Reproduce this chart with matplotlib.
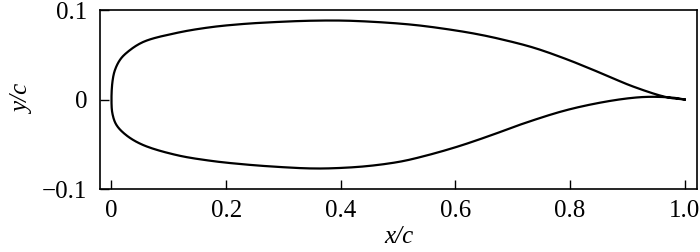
import matplotlib
matplotlib.use("Agg")
import matplotlib.pyplot as plt
import numpy as np

# Upper surface (x/c, y/c), leading edge to trailing edge
upper_x = [0.0, 0.0017, 0.0058, 0.0145, 0.026, 0.055, 0.113, 0.172, 0.230, 0.288,
           0.346, 0.400, 0.445, 0.503, 0.544, 0.602, 0.640, 0.678, 0.736, 0.794,
           0.852, 0.910, 0.969, 1.0]
upper_y = [0.0, 0.020, 0.0325, 0.044, 0.052, 0.0642, 0.0743, 0.0807, 0.0844, 0.0866,
           0.0880, 0.0882, 0.0872, 0.0848, 0.0822, 0.0770, 0.0728, 0.0676, 0.0580,
           0.0450, 0.0300, 0.0145, 0.0025, 0.0]

# Lower surface (x/c, y/c), leading edge to trailing edge
lower_x = [0.0, 0.0017, 0.0087, 0.026, 0.055, 0.113, 0.172, 0.230, 0.288, 0.346,
           0.387, 0.445, 0.503, 0.544, 0.602, 0.660, 0.718, 0.790, 0.852, 0.904,
           0.939, 0.980, 1.0]
lower_y = [0.0, -0.016, -0.0285, -0.040, -0.0508, -0.062, -0.0684, -0.0724, -0.0752,
           -0.0770, -0.0768, -0.0745, -0.0695, -0.0635, -0.0530, -0.0405, -0.0270,
           -0.0125, -0.0036, 0.0015, 0.0030, 0.0020, 0.0]

xticks = [0, 0.2, 0.4, 0.6, 0.8, 1.0]
xticklabels = ["0", "0.2", "0.4", "0.6", "0.8", "1.0"]
yticks = [-0.1, 0, 0.1]
yticklabels = ["\u22120.1", "0", "0.1"]

plt.rcParams['font.family'] = ['Liberation Serif', 'DejaVu Serif']

fig = plt.figure(figsize=(7.0, 2.52), dpi=100)
ax = fig.add_axes([0.1429, 0.25, 0.8528, 0.7103])


def centripetal(xs, ys, n=16, sx=573.0, sy=895.0):
    """Centripetal Catmull-Rom through the given points (computed in pixel-like space)."""
    pts = np.column_stack([np.asarray(xs) * sx, np.asarray(ys) * sy])
    P = np.vstack([2 * pts[0] - pts[1], pts, 2 * pts[-1] - pts[-2]])
    out = []
    for i in range(1, len(P) - 2):
        p0, p1, p2, p3 = P[i - 1], P[i], P[i + 1], P[i + 2]
        t0 = 0.0
        t1 = t0 + np.linalg.norm(p1 - p0) ** 0.5 + 1e-9
        t2 = t1 + np.linalg.norm(p2 - p1) ** 0.5 + 1e-9
        t3 = t2 + np.linalg.norm(p3 - p2) ** 0.5 + 1e-9
        for t in np.linspace(t1, t2, n, endpoint=False):
            a1 = (t1 - t) / (t1 - t0) * p0 + (t - t0) / (t1 - t0) * p1
            a2 = (t2 - t) / (t2 - t1) * p1 + (t - t1) / (t2 - t1) * p2
            a3 = (t3 - t) / (t3 - t2) * p2 + (t - t2) / (t3 - t2) * p3
            b1 = (t2 - t) / (t2 - t0) * a1 + (t - t0) / (t2 - t0) * a2
            b2 = (t3 - t) / (t3 - t1) * a2 + (t - t1) / (t3 - t1) * a3
            out.append((t2 - t) / (t2 - t1) * b1 + (t - t1) / (t2 - t1) * b2)
    out.append(pts[-1])
    out = np.array(out)
    return out[:, 0] / sx, out[:, 1] / sy


# one continuous contour: trailing edge -> upper -> leading edge -> lower -> trailing edge
cx = list(upper_x[::-1]) + list(lower_x[1:])
cy = list(upper_y[::-1]) + list(lower_y[1:])
sx_, sy_ = centripetal(cx, cy)
ax.plot(sx_, sy_, color='black', lw=1.6, solid_joinstyle='round')

ax.set_xlim(-0.02, 1.0215)
ax.set_ylim(-0.1, 0.1)
ax.set_xticks(xticks)
ax.set_xticklabels(xticklabels)
ax.set_yticks(yticks)
ax.set_yticklabels(yticklabels)
ax.tick_params(direction='in', length=6.5, width=1.0, labelsize=18,
               top=False, right=False, colors='black')
ax.tick_params(axis='x', pad=8)
ax.tick_params(axis='y', pad=9)
for s in ax.spines.values():
    s.set_linewidth(1.2)

ax.set_xlabel("x/c", fontsize=18, fontstyle='italic', labelpad=3)
ax.set_ylabel("y/c", fontsize=18, fontstyle='italic', labelpad=6)

fig.savefig("out.png", dpi=100)
